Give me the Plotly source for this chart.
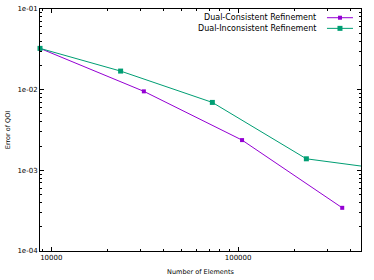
import plotly.graph_objects as go

# Data
consistent_x = [8700, 31300, 105000, 361000]
consistent_y = [0.0325, 0.00953, 0.00237, 0.000343]
inconsistent_x = [8700, 23500, 72800, 232000, 455000]
inconsistent_y = [0.0325, 0.0170, 0.00695, 0.00139, 0.00113]
series_names = ["Dual-Consistent Refinement", "Dual-Inconsistent Refinement"]
y_tick_vals = [1e-4, 1e-3, 1e-2, 1e-1]
y_tick_text = ["1e-04", "1e-03", "1e-02", "1e-01"]
x_tick_vals = [10000, 100000]
x_tick_text = ["10000", "100000"]
x_minor_vals = [v * m for v in [1000, 10000, 100000] for m in range(2, 10)]
y_minor_vals = [v * m for v in [1e-4, 1e-3, 1e-2] for m in range(2, 10)]

PURPLE = "#9400D3"
GREEN = "#009E73"
FONT = "DejaVu Sans"
XRANGE = [3.9395, 5.658]
YRANGE = [-4, -1]

fig = go.Figure()
# invisible helper trace so the minor-tick overlay axes are rendered
fig.add_trace(go.Scatter(x=[x_tick_vals[0]], y=[y_tick_vals[1]], xaxis="x2", yaxis="y2",
                         mode="markers", marker=dict(opacity=0), hoverinfo="skip",
                         showlegend=False))
fig.add_trace(go.Scatter(x=consistent_x, y=consistent_y, mode="lines+markers",
                         name=series_names[0], line=dict(color=PURPLE, width=1),
                         marker=dict(symbol="square", size=4, color=PURPLE),
                         cliponaxis=False, showlegend=False))
fig.add_trace(go.Scatter(x=inconsistent_x, y=inconsistent_y, mode="lines+markers",
                         name=series_names[1], line=dict(color=GREEN, width=1),
                         marker=dict(symbol="square", size=5, color=GREEN),
                         cliponaxis=False, showlegend=False))

# Manual gnuplot-style legend (text left of sample)
rows = [(0.964, PURPLE, 4), (0.920, GREEN, 5)]
for (yy, col, ms), name in zip(rows, series_names):
    fig.add_annotation(x=0.866, y=yy, xref="paper", yref="paper", text=name,
                       showarrow=False, xanchor="right", yanchor="middle",
                       font=dict(family=FONT, size=8, color="#000"))
    fig.add_shape(type="line", xref="paper", yref="paper", x0=0.894, x1=0.975,
                  y0=yy, y1=yy, line=dict(color=col, width=1))
    fig.add_shape(type="rect", xref="paper", yref="paper", xsizemode="pixel",
                  ysizemode="pixel", xanchor=0.9345, yanchor=yy,
                  x0=-ms / 2, x1=ms / 2, y0=-ms / 2, y1=ms / 2,
                  fillcolor=col, line=dict(width=0))

axis_common = dict(showgrid=False, zeroline=False, showline=True, linecolor="black",
                   linewidth=1, mirror="ticks", ticks="inside", ticklen=4,
                   tickcolor="black", automargin=False,
                   tickfont=dict(family=FONT, size=7, color="#000"))
minor_common = dict(type="log", showgrid=False, zeroline=False, showline=False,
                    mirror="ticks", ticks="inside", ticklen=2, tickcolor="black",
                    showticklabels=False, automargin=False)

fig.update_layout(
    width=374, height=280, margin=dict(l=40, r=13, t=9, b=29),
    plot_bgcolor="white", paper_bgcolor="white",
    font=dict(family=FONT, size=7, color="#000"),
    xaxis=dict(type="log", range=XRANGE, tickvals=x_tick_vals, ticktext=x_tick_text,
               title=dict(text="Number of Elements", standoff=8,
                          font=dict(family=FONT, size=6.5, color="#000")),
               **axis_common),
    yaxis=dict(type="log", range=YRANGE, tickvals=y_tick_vals, ticktext=y_tick_text,
               title=dict(text="Error of QOI", standoff=6,
                          font=dict(family=FONT, size=6.5, color="#000")),
               **axis_common),
    xaxis2=dict(overlaying="x", side="bottom", range=XRANGE, tickvals=x_minor_vals,
                anchor="y2", **minor_common),
    yaxis2=dict(overlaying="y", side="left", range=YRANGE, tickvals=y_minor_vals,
                anchor="x2", **minor_common),
)

fig.write_html("out.html", config={"displayModeBar": False},
               post_script="document.body.style.margin='0px';"
                           "document.body.style.overflow='hidden';")
